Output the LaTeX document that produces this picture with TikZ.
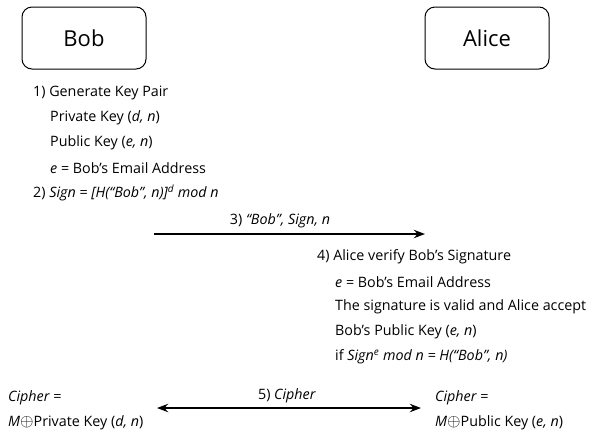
\documentclass[tikz,border=0pt]{standalone}
\usepackage{fontspec}
\setmainfont{Open Sans}
\usetikzlibrary{arrows.meta}
\usetikzlibrary{positioning}
\tikzset{>=Stealth}
\tikzset{party/.style={draw, line width=1pt, rounded corners=10pt, minimum width=124pt, minimum height=62pt, font=\fontsize{22}{26}\selectfont},
  msg/.style={anchor=west, inner sep=0pt, font=\fontsize{14.3}{16}\selectfont},
  flow/.style={->, line width=1.8pt}}
\newcommand{\xor}{{\fontsize{17}{17}\selectfont$\oplus$}}

\begin{document}
\begin{tikzpicture}[x=1pt, y=-1pt]
        \useasboundingbox (0,0) rectangle (598,437);
        \node[party] (bob) at (84, 38) {Bob};
        \node[party] (alice) at (487, 38) {Alice};

        % Bob side
        \node[msg] (gen) at (33, 93) {1) Generate Key Pair};
        \node[msg] (priv) at (50, 118) {Private Key (\textit{d, n})};
        \node[msg] (pub) at (50, 143) {Public Key (\textit{e, n})};
        \node[msg] (mail) at (50, 168) {\textit{e} = Bob’s Email Address};
        \node[msg] (sign) at (33, 193) {2) \textit{Sign = [H(“Bob”, n)]\textsuperscript{d} mod n}};

        \coordinate (s3) at (154, 234);
        \coordinate (e3) at (425, 234);
        \draw[flow] (s3) -- (e3) node[msg, anchor=center] (lab3) at (280, 221) {3) \textit{“Bob”, Sign, n}};

        % Alice side
        \node[msg] (verify) at (317, 257) {4) Alice verify Bob's Signature};
        \node[msg] (amail) at (335, 282) {\textit{e} = Bob’s Email Address};
        \node[msg] (valid) at (335, 307) {The signature is valid and Alice accept};
        \node[msg] (apub) at (335, 332) {Bob's Public Key (\textit{e, n})};
        \node[msg] (check) at (335, 357) {if \textit{Sign\textsuperscript{e} mod n = H(“Bob”, n)}};

        % cipher
        \node[msg] (cb) at (8, 398) {\textit{Cipher =}};
        \node[msg] (cbk) at (8, 423) {\textit{M}\xor Private Key (\textit{d, n})};
        \node[msg] (ca) at (435, 398) {\textit{Cipher =}};
        \node[msg] (cak) at (435, 423) {\textit{M}\xor Public Key (\textit{e, n})};

        \coordinate (s5) at (157, 408);
        \coordinate (e5) at (421, 408);
        \draw[flow, <->] (s5) -- (e5) node[msg, anchor=center] (lab5) at (287, 396) {5) \textit{Cipher}};
    \end{tikzpicture}
\end{document}
